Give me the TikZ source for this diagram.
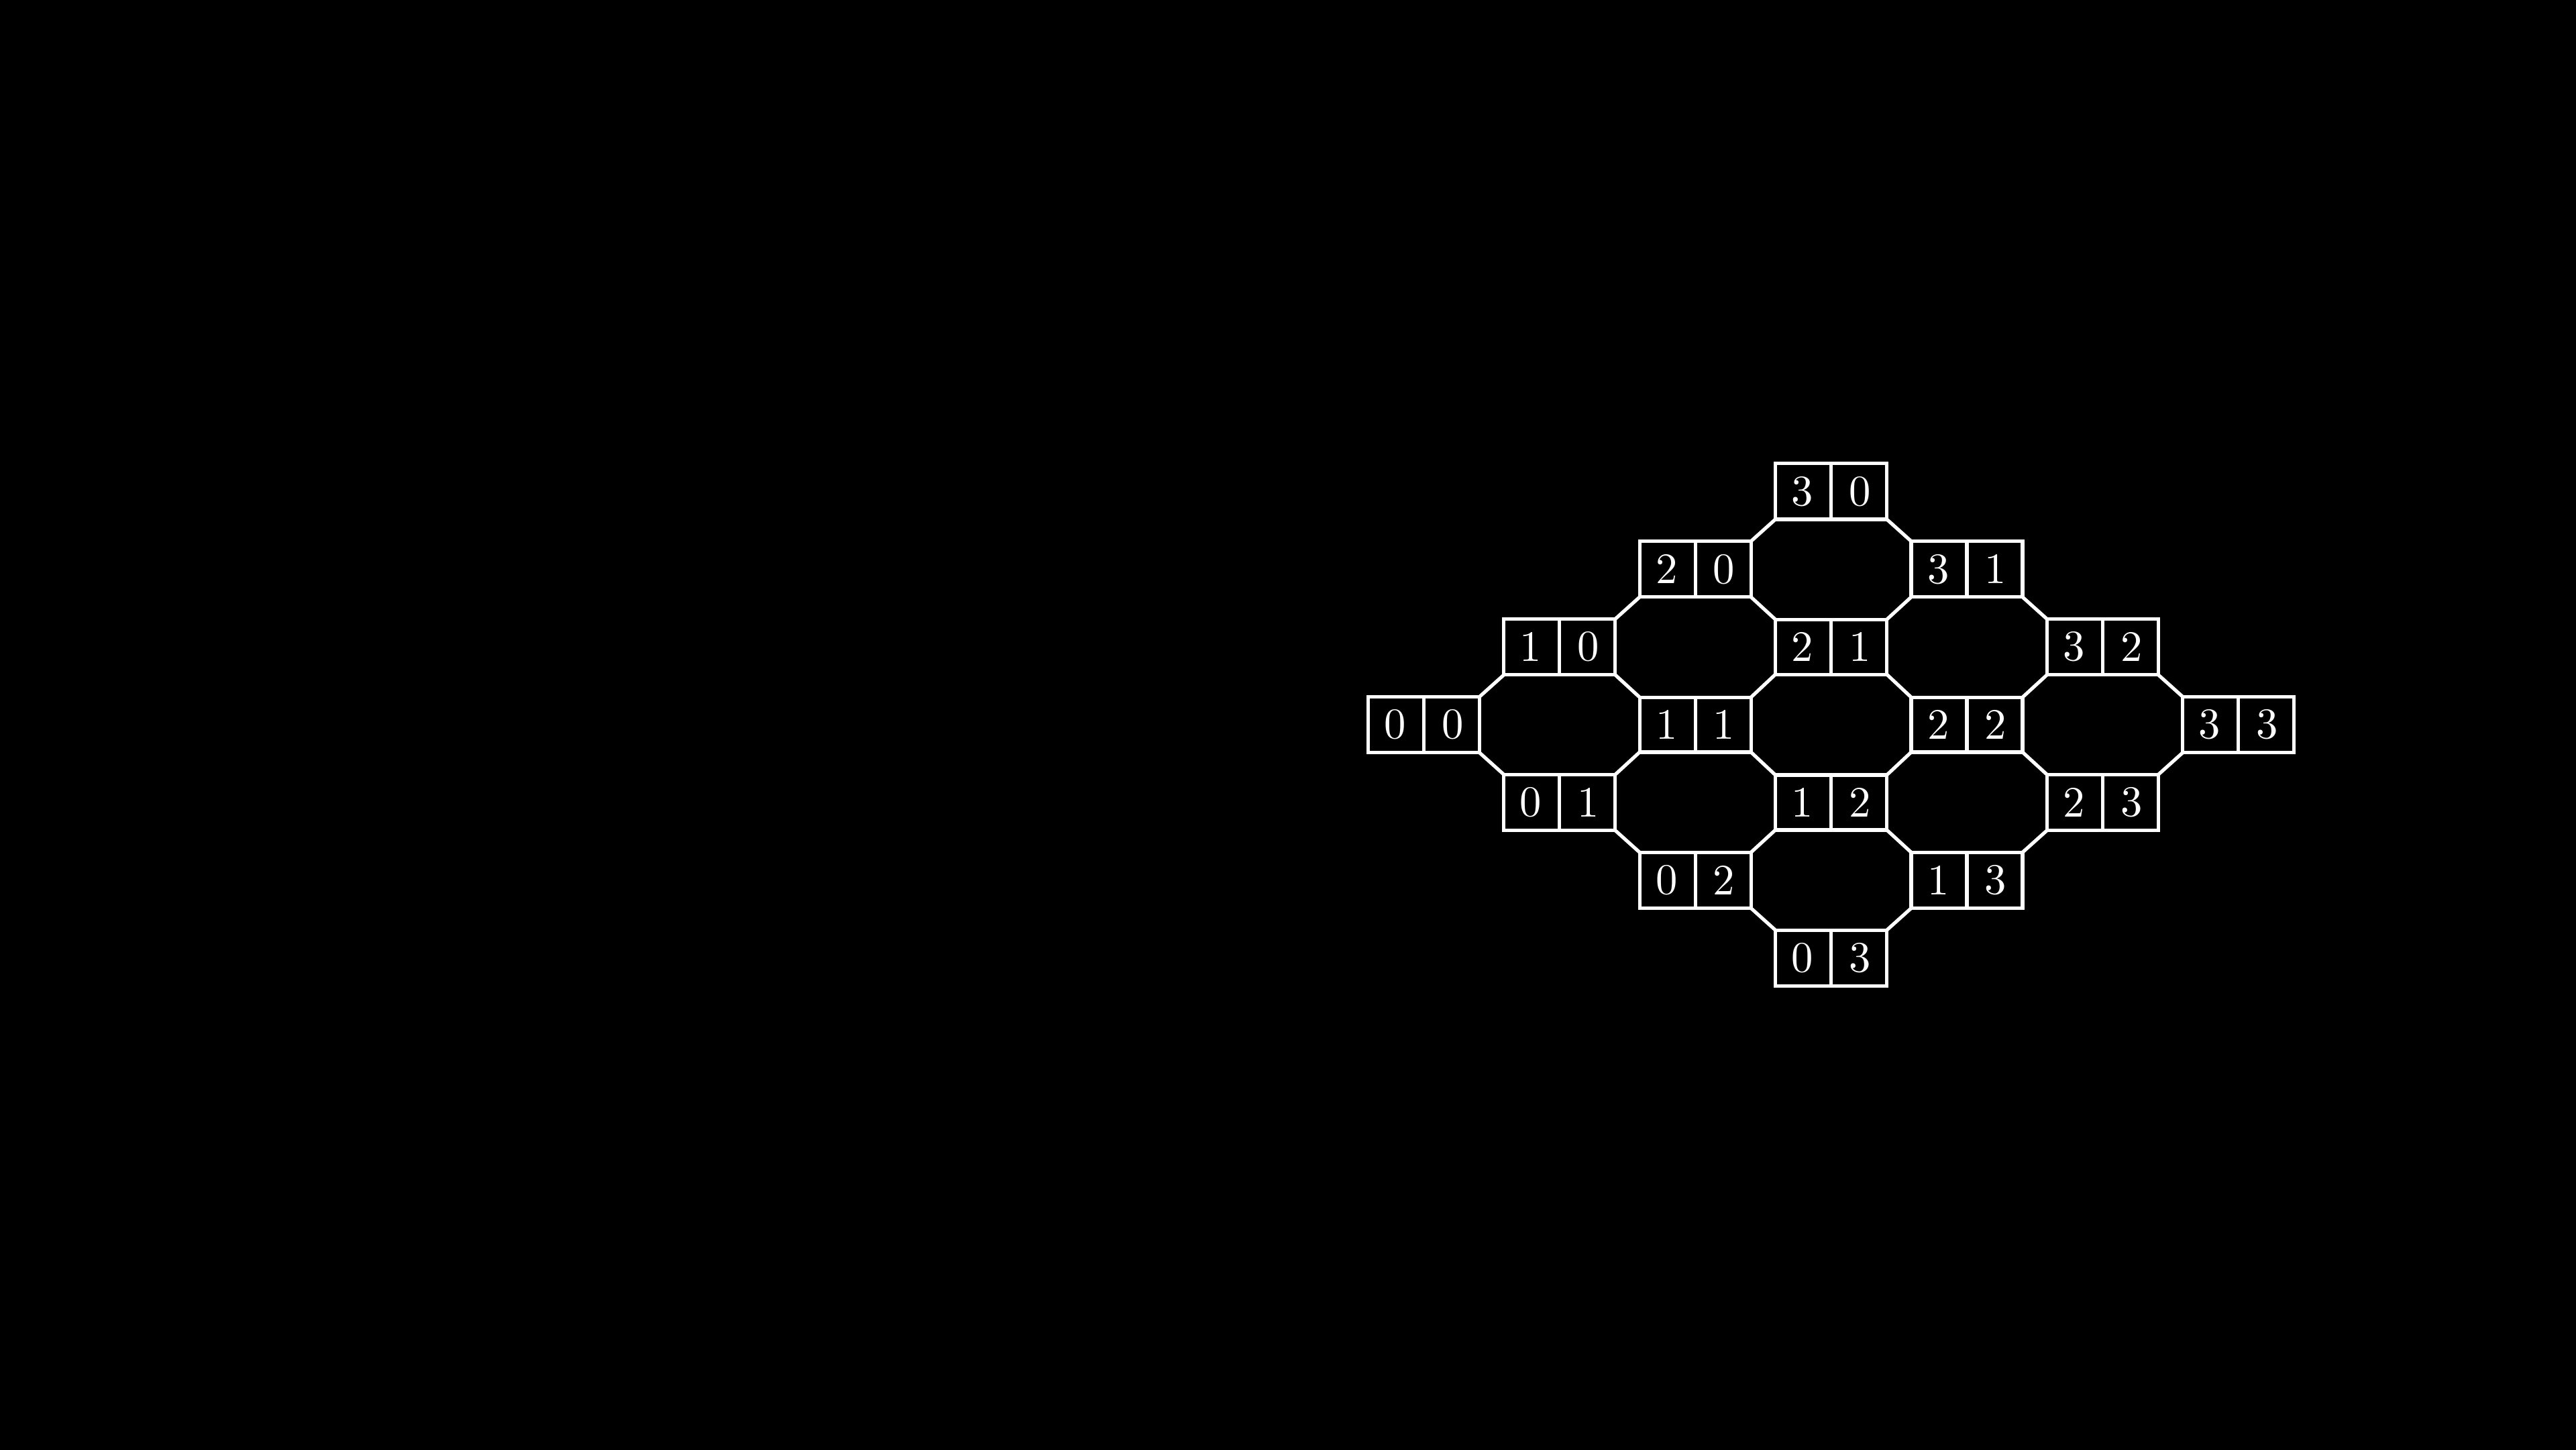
\documentclass[tikz,border=0pt]{standalone}
\usetikzlibrary{positioning, shapes.multipart}

\begin{document}
\begin{tikzpicture}[
    node distance=0.63cm and 1.1cm,
    on grid,
    pair/.style={rectangle split, rectangle split horizontal,
        rectangle split parts=2, draw=white, thick, text=white,
        inner xsep=3.72pt, inner ysep=3pt, outer sep=0pt},
    link/.style={draw=white, thick}
]
    \useasboundingbox (-10.435,-5.87) rectangle (10.435,5.87);
    \fill[black] (-10.6,-6) rectangle (10.6,6);

    \node[pair] (s00) at (1.1,0) {0\nodepart{two}0};
    \node[pair] (s10) [above right=of s00] {1\nodepart{two}0};
    \node[pair] (s01) [below right=of s00] {0\nodepart{two}1};
    \node[pair] (s20) [above right=of s10] {2\nodepart{two}0};
    \node[pair] (s11) [below right=of s10] {1\nodepart{two}1};
    \node[pair] (s02) [below right=of s01] {0\nodepart{two}2};
    \node[pair] (s30) [above right=of s20] {3\nodepart{two}0};
    \node[pair] (s21) [below right=of s20] {2\nodepart{two}1};
    \node[pair] (s12) [below right=of s11] {1\nodepart{two}2};
    \node[pair] (s03) [below right=of s02] {0\nodepart{two}3};
    \node[pair] (s31) [below right=of s30] {3\nodepart{two}1};
    \node[pair] (s22) [below right=of s21] {2\nodepart{two}2};
    \node[pair] (s13) [below right=of s12] {1\nodepart{two}3};
    \node[pair] (s32) [below right=of s31] {3\nodepart{two}2};
    \node[pair] (s23) [below right=of s22] {2\nodepart{two}3};
    \node[pair] (s33) [below right=of s32] {3\nodepart{two}3};

    \path[link]
        (s00.north east) edge (s10.south west)
        (s00.south east) edge (s01.north west)
        (s10.north east) edge (s20.south west)
        (s10.south east) edge (s11.north west)
        (s01.north east) edge (s11.south west)
        (s01.south east) edge (s02.north west)
        (s20.north east) edge (s30.south west)
        (s20.south east) edge (s21.north west)
        (s11.north east) edge (s21.south west)
        (s11.south east) edge (s12.north west)
        (s02.north east) edge (s12.south west)
        (s02.south east) edge (s03.north west)
        (s30.south east) edge (s31.north west)
        (s21.north east) edge (s31.south west)
        (s21.south east) edge (s22.north west)
        (s12.north east) edge (s22.south west)
        (s12.south east) edge (s13.north west)
        (s03.north east) edge (s13.south west)
        (s31.south east) edge (s32.north west)
        (s22.north east) edge (s32.south west)
        (s22.south east) edge (s23.north west)
        (s13.north east) edge (s23.south west)
        (s32.south east) edge (s33.north west)
        (s23.north east) edge (s33.south west);
\end{tikzpicture}
\end{document}
